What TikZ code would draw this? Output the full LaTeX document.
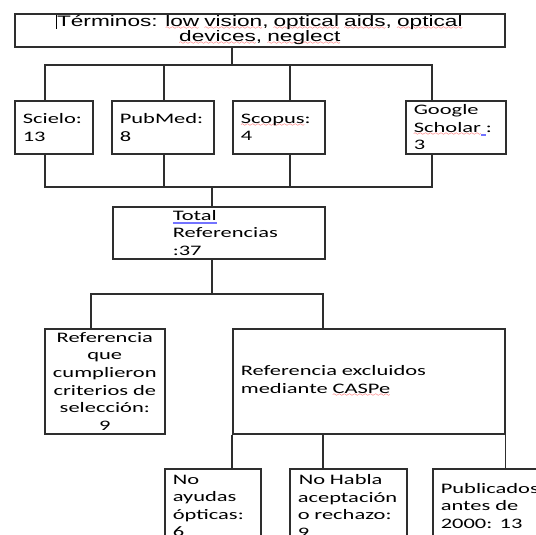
\documentclass[tikz,border=0pt]{standalone}
\usepackage{fontspec}
\setmainfont{Carlito}[FakeStretch=1.55]
\newfontfamily\arialx{Liberation Sans}[FakeStretch=1.49]
\font\sixly=lasy6
\newcommand\spl[1]{\leavevmode\setbox0\hbox{#1}\rlap{\textcolor{red}{\hbox to\wd0{\xleaders\hbox{\lower3.2pt\hbox{\sixly\char58}}\hfil}}}\box0\relax}
\newcommand\bul[1]{\leavevmode\setbox0\hbox{#1}\rlap{\textcolor{blue!55}{\rule[-2.2pt]{\wd0}{0.6pt}}}\rlap{\textcolor{blue!55}{\rule[-3.6pt]{\wd0}{0.6pt}}}\box0\relax}
\begin{document}
\begin{tikzpicture}[x=1pt,y=-1pt,
  ln/.style={draw=black!82, line width=1.6pt},
  bx/.style={ln, anchor=north west, inner xsep=8pt, inner ysep=0pt,
    font=\fontsize{14.5}{17.6}\selectfont, align=left}]
\useasboundingbox (0,0) rectangle (536,535);
\clip (0,0) rectangle (536,535);
\fill[white] (0,0) rectangle (536,535);

% top box
\node[bx, align=center, text width=474pt, minimum height=33pt,
  font=\arialx\fontsize{15.2}{15}\selectfont] (top) at (14,13)
  {Términos: \spl{low} \spl{vision}, \spl{optical} \spl{aids}, \spl{optical}\\\spl{devices}, \spl{neglect}};
\draw[line width=0.6pt] (56,15) -- (56,29);

% database boxes
\node[bx, text width=62pt, minimum height=53pt] (sci) at (14,100) {Scielo:\\13};
\node[bx, text width=86pt, minimum height=53pt] (pub) at (111,100) {PubMed:\\8};
\node[bx, text width=76pt, minimum height=53pt] (sco) at (232,100) {\spl{Scopus}:\\4};
\node[bx, text width=84pt, minimum height=53pt] (goo) at (405,100) {Google\\\spl{Scholar}\bul{\ }:\\3};

% total
\node[bx, text width=196pt, minimum height=52pt] (tot) at (112,206)
  {\hspace*{52pt}\bul{Total}\\\hspace*{52pt}Referencias\\\hspace*{52pt}:37};

% selection / excluded
\node[bx, align=center, inner xsep=2pt, text width=116pt, minimum height=105pt] (sel) at (44,328)
  {Referencia\\que\\cumplieron\\criterios de\\selección:\\9};
\node[bx, text width=256pt, minimum height=105pt] (exc) at (232,328)
  {Referencia excluidos\\mediante \spl{CASPe}};

% lower boxes
\node[bx, text width=80pt, minimum height=74pt] (no1) at (164,468) {No\\ayudas\\ópticas:\\6};
\node[bx, text width=101pt, minimum height=74pt] (no2) at (289,468) {\hspace*{1pt}No Habla\\aceptación\\o rechazo:\\9};
\node[bx, text width=134pt, minimum height=74pt] (no3) at (432,468) {Publicados\\antes de\\2000: 13};

% connectors, top level
\coordinate (j0) at (232,65);
\coordinate (d1) at (45,65);
\coordinate (d2) at (164,65);
\coordinate (d3) at (290,65);
\coordinate (d4) at (432,65);
\draw[ln] (top.south -| j0) -- (j0);
\draw[ln] (d1 |- sci.north) -- (d1) -- (d4) -- (d4 |- goo.north);
\draw[ln] (d2) -- (d2 |- pub.north);
\draw[ln] (d3) -- (d3 |- sco.north);

\coordinate (u1) at (45,187);
\coordinate (u2) at (164,187);
\coordinate (u3) at (290,187);
\coordinate (u4) at (432,187);
\coordinate (m1) at (212,187);
\draw[ln] (sci.south -| u1) -- (u1) -- (u4) -- (goo.south -| u4);
\draw[ln] (pub.south -| u2) -- (u2);
\draw[ln] (sco.south -| u3) -- (u3);
\draw[ln] (m1) -- (tot.north -| m1);

\coordinate (m2) at (212,294);
\coordinate (b1) at (91,294);
\coordinate (b2) at (323,294);
\draw[ln] (tot.south -| m2) -- (m2);
\draw[ln] (sel.north -| b1) -- (b1) -- (b2) -- (exc.north -| b2);

\coordinate (e2) at (323,433);
\draw[ln] (exc.south west) -- (no1.north -| exc.south west);
\draw[ln] (e2) -- (no2.north -| e2);
\draw[ln] (exc.south east) -- (no3.north -| exc.south east);
\end{tikzpicture}
\end{document}
